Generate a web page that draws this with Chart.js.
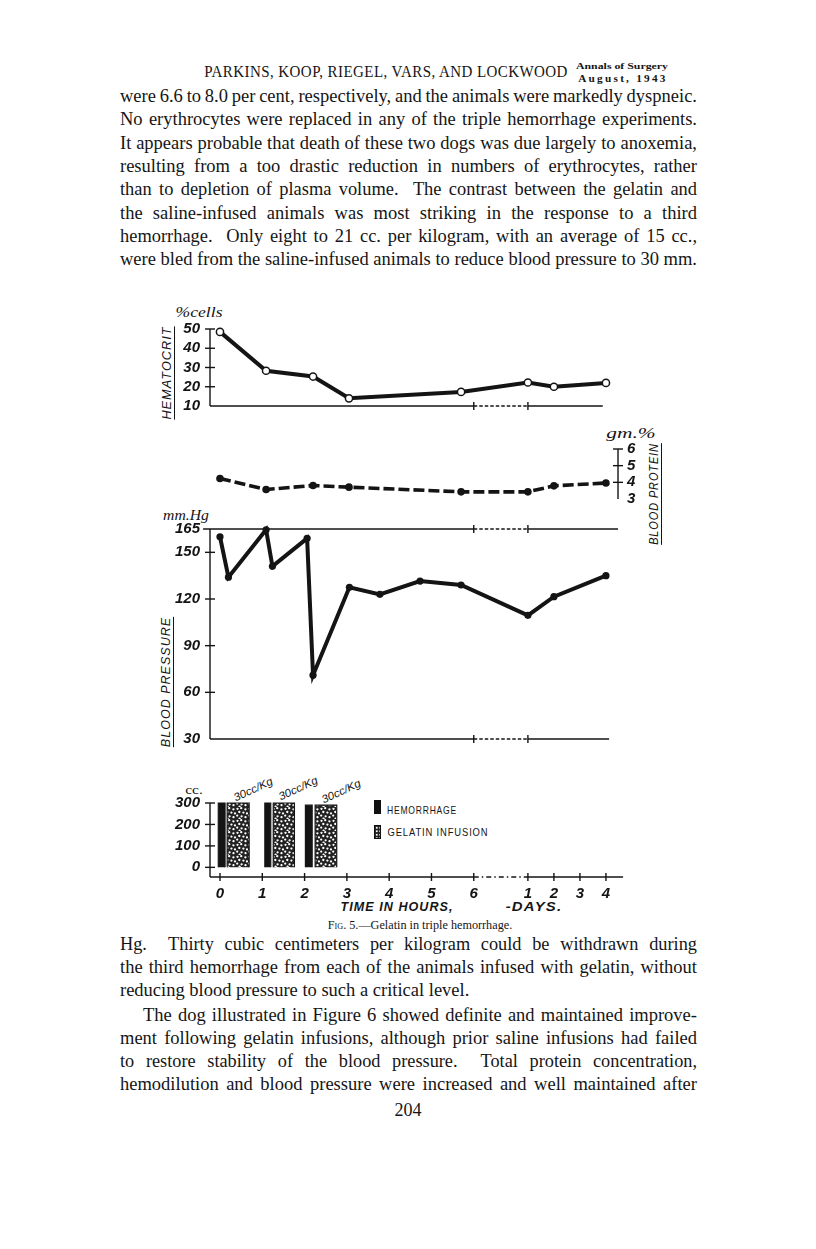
<!DOCTYPE html>
<html>
<head>
<meta charset="utf-8">
<script src="https://cdn.jsdelivr.net/npm/chart.js@4.4.1/dist/chart.umd.min.js"></script>
<style>
  body { margin: 0; background: #fff; }
  #page { position: relative; width: 816px; height: 1249px; overflow: hidden; background: #fff; color: #151515; font-family: 'Liberation Serif', serif; }
  .ln { position: absolute; left: 120px; font-size: 18.5px; line-height: 23px; white-space: nowrap; transform-origin: 0 50%; color: #151515; }
  .lb { position: absolute; white-space: nowrap; transform: translate(-50%, -50%); color: #151515; }
  .hand { font-family: 'Liberation Sans', sans-serif; font-style: italic; font-weight: bold; }
  .vt { font-family: 'Liberation Sans', sans-serif; font-style: italic; font-size: 12px; letter-spacing: 1px; text-decoration: underline; text-underline-offset: 3px; }
  canvas { position: absolute; left: 140px; }
  .sw { position: absolute; width: 7px; height: 14px; border: 1px solid #111; box-sizing: border-box; }
</style>
</head>
<body>
<div id="page">
  <div class="lb" data-w="364" style="left:386px; top:72px; font-size:17px; letter-spacing:0.5px;">PARKINS, KOOP, RIEGEL, VARS, AND LOCKWOOD</div>
  <div class="lb" data-w="92" style="left:622px; top:66px; font-size:9px; font-weight:bold;">Annals of Surgery</div>
  <div class="lb" data-w="90" style="left:623px; top:78px; font-size:10px; font-weight:bold; letter-spacing:2px;">August, 1943</div>

  <div class="ln" data-j="577" style="top:85px;">were 6.6 to 8.0 per cent, respectively, and the animals were markedly dyspneic.</div>
  <div class="ln" data-j="577" style="top:108px;">No erythrocytes were replaced in any of the triple hemorrhage experiments.</div>
  <div class="ln" data-j="577" style="top:132px;">It appears probable that death of these two dogs was due largely to anoxemia,</div>
  <div class="ln" data-j="577" style="top:155px;">resulting from a too drastic reduction in numbers of erythrocytes, rather</div>
  <div class="ln" data-j="577" style="top:178px;">than to depletion of plasma volume.&nbsp; The contrast between the gelatin and</div>
  <div class="ln" data-j="577" style="top:202px;">the saline-infused animals was most striking in the response to a third</div>
  <div class="ln" data-j="577" style="top:225px;">hemorrhage.&nbsp; Only eight to 21 cc. per kilogram, with an average of 15 cc.,</div>
  <div class="ln" data-j="577" style="top:248px;">were bled from the saline-infused animals to reduce blood pressure to 30 mm.</div>

  <div class="lb" data-w="47" style="left:199px; top:312px; font-style:italic; font-size:15px;">%cells</div>
  <div class="lb vt" data-w="93" data-r="-90" style="left:167px; top:373px;">HEMATOCRIT</div>
  <div class="lb" data-w="50" style="left:631px; top:433px; font-style:italic; font-size:15px;">gm.%</div>
  <div class="lb vt" data-w="102" data-r="-90" style="left:654px; top:494px;">BLOOD PROTEIN</div>
  <div class="lb" data-w="46" style="left:186px; top:516px; font-style:italic; font-size:14px;">mm.Hg</div>
  <div class="lb vt" data-w="130" data-r="-90" style="left:166px; top:682px;">BLOOD PRESSURE</div>
  <div class="lb" data-w="18" style="left:194px; top:790px; font-size:12px;">cc.</div>

  <div class="lb hand" data-w="42" data-r="-25" style="left:253px; top:789px; font-size:11px; font-weight:normal;">30cc/Kg</div>
  <div class="lb hand" data-w="42" data-r="-25" style="left:298px; top:788px; font-size:11px; font-weight:normal;">30cc/Kg</div>
  <div class="lb hand" data-w="42" data-r="-25" style="left:341px; top:791px; font-size:11px; font-weight:normal;">30cc/Kg</div>

  <div class="sw" style="left:374px; top:800px; background:#111;"></div>
  <div class="lb" data-w="70" style="left:422px; top:810px; font-family:'Liberation Sans',sans-serif; font-size:11px; letter-spacing:1px;">HEMORRHAGE</div>
  <div class="sw" style="left:374px; top:825px; background: radial-gradient(circle, #fff 0.9px, transparent 1.3px) 0 0/3.5px 3.5px, #222;"></div>
  <div class="lb" data-w="101" style="left:438px; top:832px; font-family:'Liberation Sans',sans-serif; font-size:11px; letter-spacing:1px;">GELATIN INFUSION</div>

  <div class="lb hand" data-w="113" style="left:397px; top:907px; font-size:12px; letter-spacing:1px;">TIME IN HOURS,</div>
  <div class="lb hand" data-w="57" style="left:534px; top:907px; font-size:12px; letter-spacing:1px;">-DAYS.</div>
  <div class="lb" data-w="184" style="left:420px; top:925px; font-size:12px;"><span style="font-variant:small-caps">Fig.</span> 5.—Gelatin in triple hemorrhage.</div>

  <div class="ln" data-j="577" style="top:933px;">Hg.&nbsp; Thirty cubic centimeters per kilogram could be withdrawn during</div>
  <div class="ln" data-j="577" style="top:956px;">the third hemorrhage from each of the animals infused with gelatin, without</div>
  <div class="ln" style="top:979px;">reducing blood pressure to such a critical level.</div>
  <div class="ln" data-j="554" style="top:1004px; left:143px;">The dog illustrated in Figure 6 showed definite and maintained improve-</div>
  <div class="ln" data-j="577" style="top:1027px;">ment following gelatin infusions, although prior saline infusions had failed</div>
  <div class="ln" data-j="577" style="top:1050px;">to restore stability of the blood pressure.&nbsp; Total protein concentration,</div>
  <div class="ln" data-j="577" style="top:1073px;">hemodilution and blood pressure were increased and well maintained after</div>
  <div class="lb" style="left:408px; top:1110px; font-size:18px;">204</div>

  <canvas id="hct" width="520" height="147" style="top:309px;"></canvas>
  <canvas id="prot" width="520" height="120" style="top:429px;"></canvas>
  <canvas id="bp" width="520" height="280" style="top:509px;"></canvas>
  <canvas id="cc" width="520" height="124" style="top:783px;"></canvas>
</div>

<script>
// time axis: hours 0-6, then days (day points given as hours: 24, 48, 96)
const hourLabels = ['0', '1', '2', '3', '4', '5', '6'];
const dayLabels = ['1', '2', '3', '4'];

const hctTicks = [10, 20, 30, 40, 50];
const proteinTicks = [3, 4, 5, 6];
const bpTicks = [30, 60, 90, 120, 150, 165];
const ccTicks = [0, 100, 200, 300];

const sampleHours = [0, 1.09, 2.2, 3.05, 5.7, 24, 48, 96];
const hematocrit = [48.5, 28.3, 25.3, 14, 17.3, 22.2, 20, 22];
const protein = [4.23, 3.57, 3.81, 3.71, 3.43, 3.43, 3.79, 3.96];

const bpHours = [0, 0.2, 1.09, 1.24, 2.06, 2.2, 3.06, 3.78, 4.73, 5.7, 24, 48, 96];
const bloodPressure = [160, 134, 164.5, 141, 159, 71, 127.5, 123, 131.5, 129, 109.5, 121.5, 135];

const hemorrhageFrom = [-0.04, 1.06, 2.02];
const hemorrhageTo = [0.12, 1.2, 2.18];
const hemorrhageCc = [300, 300, 290];
const gelatinFrom = [0.17, 1.26, 2.25];
const gelatinTo = [0.69, 1.76, 2.76];
const gelatinCc = [300, 300, 290];

// broken axis: one unit per hour, shorter units per day after the break
const DAY1 = 7.28, DAY_STEP = 0.615;
function toAxis(h) { return h <= 6 ? h : DAY1 + (h / 24 - 1) * DAY_STEP; }
const X_MIN = -0.236, X_MAX = 9.41;
const dayPos = dayLabels.map((d, i) => toAxis(24 * (i + 1)));
const INK = '#141414';
const handFont = { family: 'Liberation Sans', size: 15, style: 'italic', weight: 'bold' };

// hand drawn axes: lines with a dashed break and ticks crossing the line
const frame = {
  id: 'frame',
  beforeDatasetsDraw(chart, args, o) {
    const ctx = chart.ctx, xs = chart.scales.x, ys = chart.scales.y;
    ctx.save();
    ctx.strokeStyle = INK;
    ctx.lineWidth = 1.4;
    const seg = (x1, y1, x2, y2, dash) => {
      ctx.setLineDash(dash || []);
      ctx.beginPath(); ctx.moveTo(x1, y1); ctx.lineTo(x2, y2); ctx.stroke();
    };
    (o.h || []).forEach(l => {
      const py = ys.getPixelForValue(l.y);
      const p = v => xs.getPixelForValue(v);
      seg(p(l.from), py, p(6), py);
      seg(p(6), py, p(DAY1), py, l.dash || [3.5, 2]);
      seg(p(DAY1), py, p(l.to), py);
      (l.marks || []).forEach(m => seg(p(m), py - 4, p(m), py + 4));
    });
    (o.v || []).forEach(l => {
      const px = xs.getPixelForValue(l.x);
      seg(px, ys.getPixelForValue(l.from), px, ys.getPixelForValue(l.to));
      (l.marks || []).forEach(m => {
        const py = ys.getPixelForValue(m);
        seg(px - 5, py, px + 5, py);
      });
    });
    ctx.restore();
  }
};

function xAxis(show) {
  return {
    type: 'linear', min: X_MIN, max: X_MAX, display: show,
    grid: { display: false, drawTicks: false }, border: { display: false },
    afterFit: s => { s.height = 30; },
    afterBuildTicks: s => { s.ticks = hourLabels.map(Number).concat(dayPos).map(v => ({ value: v })); },
    ticks: {
      padding: 8, color: INK, autoSkip: false, maxRotation: 0,
      font: { ...handFont, size: 15 },
      callback: (v, i) => hourLabels.concat(dayLabels)[i]
    }
  };
}

function yAxis(min, max, ticks, side) {
  const right = side === 'right';
  return {
    type: 'linear', position: right ? 'right' : 'left', min, max,
    grid: { display: false, drawTicks: false }, border: { display: false },
    afterFit: s => { s.width = right ? 42 : 70; },
    afterBuildTicks: s => { s.ticks = ticks.map(v => ({ value: v })); },
    ticks: { padding: right ? 9 : 10, color: INK, font: handFont, autoSkip: false }
  };
}

function pts(times, vals) { return times.map((h, i) => ({ x: toAxis(h), y: vals[i] })); }

function makeChart(id, datasets, scales, framing, padding) {
  return new Chart(document.getElementById(id), {
    type: 'line',
    data: { datasets },
    options: {
      responsive: false, animation: false,
      layout: { padding },
      scales,
      plugins: { legend: { display: false }, tooltip: { enabled: false }, frame: framing }
    },
    plugins: [frame]
  });
}

makeChart('hct', [{
  data: pts(sampleHours, hematocrit),
  borderColor: INK, borderWidth: 4, tension: 0, clip: false,
  pointRadius: 3.6, pointBorderWidth: 1.5, pointBackgroundColor: '#fff', pointBorderColor: INK
}], { x: xAxis(false), y: yAxis(10, 50, hctTicks) }, {
  h: [{ y: 10, from: X_MIN, to: 9.05, marks: [6, DAY1] }],
  v: [{ x: X_MIN, from: 10, to: 50, marks: [20, 30, 40, 50] }]
}, { left: 0, right: 42, top: 20, bottom: 20 });

makeChart('prot', [{
  data: pts(sampleHours, protein),
  borderColor: INK, borderWidth: 3.6, borderDash: [11, 4], tension: 0, clip: false,
  pointRadius: 3.8, pointBackgroundColor: INK, pointBorderColor: INK, pointBorderWidth: 0
}], { x: xAxis(false), y: yAxis(3, 6, proteinTicks, 'right') }, {
  v: [{ x: X_MAX, from: 3, to: 6, marks: [4, 5, 6] }]
}, { left: 70, right: 0, top: 20, bottom: 20 });

makeChart('bp', [{
  data: pts(bpHours, bloodPressure),
  borderColor: INK, borderWidth: 4, tension: 0, clip: false,
  pointRadius: 3.6, pointBackgroundColor: INK, pointBorderColor: INK, pointBorderWidth: 0
}], { x: xAxis(false), y: yAxis(30, 165, bpTicks) }, {
  h: [{ y: 165, from: -0.4, to: X_MAX, marks: [6, DAY1] },
      { y: 30, from: X_MIN, to: 9.2, marks: [6, DAY1] }],
  v: [{ x: X_MIN, from: 30, to: 165, marks: [60, 90, 120, 150] }]
}, { left: 0, right: 42, top: 20, bottom: 20 });

// stipple fill for the gelatin bars
const tile = document.createElement('canvas');
tile.width = 12; tile.height = 12;
const tc = tile.getContext('2d');
tc.fillStyle = '#222'; tc.fillRect(0, 0, 12, 12);
tc.fillStyle = '#fff';
[[1.5, 1.8], [5.2, 1.2], [9.4, 2.3], [3.3, 5.0], [7.4, 5.6], [11, 6.4], [1.2, 8.6], [5.6, 9.3], [9.5, 10.2], [3.6, 11.6]]
  .forEach(([a, b]) => { tc.beginPath(); tc.arc(a, b, 1.15, 0, Math.PI * 2); tc.fill(); });
const stipple = tc.createPattern(tile, 'repeat');

function bar(from, to, cc, fill) {
  return {
    data: [{ x: from, y: 0 }, { x: from, y: cc }, { x: to, y: cc }, { x: to, y: 0 }],
    fill: 'origin', backgroundColor: fill, borderColor: INK, borderWidth: 1.2,
    pointRadius: 0, tension: 0, clip: false
  };
}
const barSets = [];
hemorrhageFrom.forEach((f, i) => barSets.push(bar(toAxis(f), toAxis(hemorrhageTo[i]), hemorrhageCc[i], INK)));
gelatinFrom.forEach((f, i) => barSets.push(bar(toAxis(f), toAxis(gelatinTo[i]), gelatinCc[i], stipple)));

makeChart('cc', barSets, { x: xAxis(true), y: yAxis(-45, 300, ccTicks) }, {
  h: [{ y: -45, from: X_MIN, to: 9.53, dash: [5, 3, 1.5, 3], marks: hourLabels.map(Number).concat(dayPos) }],
  v: [{ x: X_MIN, from: -45, to: 300, marks: [0, 100, 200, 300] }]
}, { left: 0, right: 42, top: 20, bottom: 0 });

// text fitting: justify paragraph lines, stretch labels to measured widths
document.querySelectorAll('.ln').forEach(el => {
  const target = +el.dataset.j;
  if (!target) return;
  const w = el.getBoundingClientRect().width;
  const spaces = (el.textContent.match(/ /g) || []).length;
  let ws = (target - w) / spaces;
  if (ws < -1.5) ws = -1.5;
  el.style.wordSpacing = ws + 'px';
  const w2 = el.getBoundingClientRect().width;
  if (Math.abs(w2 - target) > 1) el.style.transform = 'scaleX(' + (target / w2) + ')';
});
document.querySelectorAll('.lb').forEach(el => {
  const w = +el.dataset.w;
  const r = el.dataset.r ? ' rotate(' + el.dataset.r + 'deg)' : '';
  const k = w ? w / el.offsetWidth : 1;
  el.style.transform = 'translate(-50%, -50%)' + r + ' scaleX(' + k + ')';
});
</script>
</body>
</html>
